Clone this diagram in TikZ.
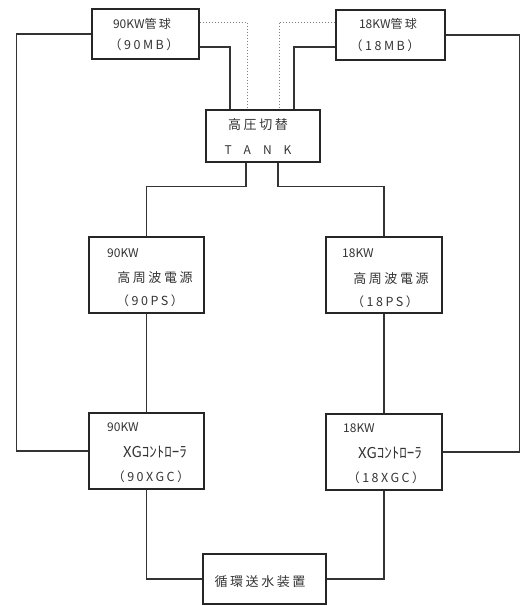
\documentclass[tikz,border=0pt]{standalone}
\usepackage{fontspec}
\newfontfamily\jp{Noto Sans CJK JP}
\newfontfamily\jpsp[LetterSpace=20]{Noto Sans CJK JP}
\begin{document}
\begin{tikzpicture}[x=1pt,y=-1pt,
  box/.style={draw=black!85,line width=1.1pt,rectangle,inner sep=0pt},
  wire/.style={draw=black!80,line width=1.1pt},
  dwire/.style={draw=black!50,line width=1pt,dotted},
  txt/.style={inner sep=0pt,text=black!80,font=\jp\fontsize{12}{14}\selectfont},
  ktxt/.style={inner sep=0pt,text=black!80,font=\jp\fontsize{15}{16}\selectfont},
  ctxt/.style={inner sep=0pt,text=black!80,font=\jpsp\fontsize{13}{15}\selectfont},
  ptxt/.style={inner sep=0pt,text=black!80,font=\jpsp\fontsize{12.5}{14}\selectfont}]
\useasboundingbox (0,0) rectangle (520,606);
% boxes
\node[box,minimum width=107pt,minimum height=50pt] (tube90) at (145.5,34) {};
\node[box,minimum width=109pt,minimum height=50pt] (tube18) at (390.5,35) {};
\node[box,minimum width=114pt,minimum height=52pt] (tank) at (263,136) {};
\node[box,minimum width=115pt,minimum height=76pt] (ps90) at (146.5,275) {};
\node[box,minimum width=116pt,minimum height=76pt] (ps18) at (384,275) {};
\node[box,minimum width=115pt,minimum height=76pt] (xgc90) at (146.5,451) {};
\node[box,minimum width=116pt,minimum height=76pt] (xgc18) at (384,452) {};
\node[box,minimum width=123pt,minimum height=50pt] (water) at (264.5,579) {};
% texts
\node[txt] (t1a) at (142,24) {90KW{\jpsp 管球}};
\node[ptxt] (t1b) at (144,45) {（90MB）};
\node[txt] (t2a) at (388,24) {18KW{\jpsp 管球}};
\node[ptxt] (t2b) at (385,46) {（18MB）};
\node[ctxt] (t3a) at (258,125) {高圧切替};
\node[txt] (t3b) at (258,150) {T\hspace{1em}A\hspace{1em}N\hspace{1em}K};
\node[txt,anchor=west] (t4a) at (107,253) {90KW};
\node[ctxt] (t4b) at (155,278) {高周波電源};
\node[ptxt] (t4c) at (150,301) {（90PS）};
\node[txt,anchor=west] (t5a) at (342,253) {18KW};
\node[ctxt] (t5b) at (391,279) {高周波電源};
\node[ptxt] (t5c) at (385,302) {（18PS）};
\node[txt,anchor=west] (t6a) at (107,427) {90KW};
\node[ktxt] (t6b) at (155,452) {XGｺﾝﾄﾛｰﾗ};
\node[ptxt] (t6c) at (151,477) {（90XGC）};
\node[txt,anchor=west] (t7a) at (343,428) {18KW};
\node[ktxt] (t7b) at (390,453) {XGｺﾝﾄﾛｰﾗ};
\node[ptxt] (t7c) at (386,478) {（18XGC）};
\node[ctxt] (t8) at (260,582) {循環送水装置};
% connectors
\draw[wire] (tube90.west) -- ++(-75,0) |- (xgc90.west);
\draw[wire] (tube18.east) -- ++(74,0) |- (xgc18.east);
\draw[wire] ([yshift=-13pt]tube90.east) -| ([xshift=-33pt]tank.north);
\draw[dwire] ([yshift=12pt]tube90.east) -| ([xshift=-16pt]tank.north);
\draw[dwire] ([yshift=13pt]tube18.west) -| ([xshift=16pt]tank.north);
\draw[wire] ([yshift=-12pt]tube18.west) -| ([xshift=31pt]tank.north);
\draw[wire] ([xshift=-17pt]tank.south) -- ++(0,24) -| (ps90.north);
\draw[wire] ([xshift=15pt]tank.south) -- ++(0,24) -| (ps18.north);
\draw[wire] (ps90.south) -- (xgc90.north);
\draw[wire] (ps18.south) -- (xgc18.north);
\draw[wire] (xgc90.south) |- (water.west);
\draw[wire] (xgc18.south) |- (water.east);
\end{tikzpicture}
\end{document}
